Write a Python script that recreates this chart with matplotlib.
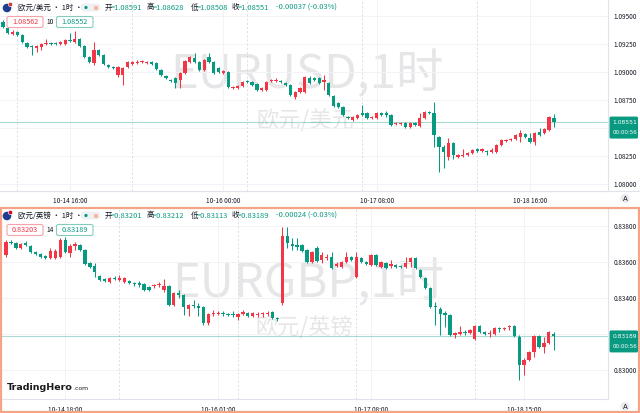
import matplotlib
matplotlib.use("Agg")
import matplotlib.pyplot as plt
from matplotlib.patches import FancyBboxPatch, Circle, Rectangle
import numpy as np

plt.rcParams['font.family'] = ['Noto Sans CJK SC', 'DejaVu Sans']

# ---------------- data ----------------
# EUR/USD hourly candles, x = hours since 10-14 00:00
usd_first_hour = 2
usd_open = [1.09444, 1.09391, 1.09337, 1.09355, 1.09329, 1.09257, 1.09231, 1.09213, 1.09222, 1.09248,
            1.09257, 1.09252, 1.09248, 1.09248, 1.09284, 1.09266, 1.09293, 1.09231, 1.09133, 1.09079,
            1.09195, 1.09151, 1.09062, 1.09044, 1.08973, 1.08973, 1.09044, 1.09070, 1.09079, 1.09088,
            1.09079, 1.09088, 1.09079, 1.09017, 1.08964, 1.08928, 1.08946, 1.08928, 1.08990, 1.09088,
            1.09124, 1.09088, 1.09017, 1.09133, 1.09088, 1.09035, 1.08990, 1.08999, 1.08857, 1.08857,
            1.08875, 1.08919, 1.08910, 1.08892, 1.08839, 1.08839, 1.08919, 1.08919, 1.08919, 1.08901,
            1.08884, 1.08777, 1.08821, 1.08821, 1.08946, 1.08946, 1.08946, 1.08910, 1.08901, 1.08786,
            1.08723, 1.08688, 1.08599, 1.08572, 1.08590, 1.08634, 1.08634, 1.08590, 1.08590, 1.08634,
            1.08634, 1.08617, 1.08536, 1.08538, 1.08545, 1.08510, 1.08545, 1.08519, 1.08590, 1.08643,
            1.08634, 1.08421, 1.08332, 1.08243, 1.08367, 1.08243, 1.08252, 1.08261, 1.08278, 1.08314,
            1.08296, 1.08296, 1.08287, 1.08287, 1.08350, 1.08385, 1.08394, 1.08403, 1.08421, 1.08447,
            1.08412, 1.08376, 1.08465, 1.08456, 1.08483, 1.08591]
usd_high = [1.09462, 1.09400, 1.09373, 1.09364, 1.09337, 1.09266, 1.09240, 1.09240, 1.09257, 1.09293,
            1.09266, 1.09266, 1.09275, 1.09293, 1.09346, 1.09364, 1.09300, 1.09240, 1.09142, 1.09266,
            1.09204, 1.09160, 1.09070, 1.09053, 1.09053, 1.09044, 1.09097, 1.09097, 1.09106, 1.09106,
            1.09097, 1.09097, 1.09088, 1.09026, 1.08973, 1.08937, 1.08955, 1.08999, 1.09106, 1.09142,
            1.09168, 1.09097, 1.09115, 1.09168, 1.09097, 1.09044, 1.09017, 1.09008, 1.08875, 1.08884,
            1.08919, 1.08928, 1.08919, 1.08901, 1.08866, 1.08919, 1.08937, 1.08942, 1.08928, 1.08910,
            1.08892, 1.08830, 1.08866, 1.08964, 1.08964, 1.08955, 1.08955, 1.08973, 1.08910, 1.08795,
            1.08732, 1.08697, 1.08608, 1.08608, 1.08626, 1.08706, 1.08643, 1.08608, 1.08643, 1.08643,
            1.08652, 1.08626, 1.08554, 1.08554, 1.08554, 1.08554, 1.08554, 1.08634, 1.08652, 1.08652,
            1.08732, 1.08430, 1.08350, 1.08412, 1.08376, 1.08269, 1.08314, 1.08287, 1.08314, 1.08323,
            1.08323, 1.08305, 1.08323, 1.08359, 1.08403, 1.08403, 1.08412, 1.08447, 1.08483, 1.08456,
            1.08456, 1.08465, 1.08501, 1.08501, 1.08608, 1.08628]
usd_low = [1.09391, 1.09337, 1.09329, 1.09320, 1.09257, 1.09213, 1.09151, 1.09177, 1.09195, 1.09240,
           1.09240, 1.09240, 1.09240, 1.09240, 1.09266, 1.09257, 1.09222, 1.09124, 1.09079, 1.09062,
           1.09142, 1.09062, 1.09035, 1.09026, 1.08955, 1.08884, 1.09035, 1.09062, 1.09070, 1.09079,
           1.09070, 1.09062, 1.09017, 1.08964, 1.08937, 1.08910, 1.08857, 1.08857, 1.08981, 1.09079,
           1.09079, 1.09008, 1.09008, 1.09079, 1.08981, 1.08990, 1.08981, 1.08857, 1.08848, 1.08848,
           1.08866, 1.08901, 1.08875, 1.08830, 1.08830, 1.08830, 1.08910, 1.08910, 1.08901, 1.08875,
           1.08786, 1.08759, 1.08812, 1.08812, 1.08892, 1.08919, 1.08892, 1.08839, 1.08786, 1.08688,
           1.08679, 1.08608, 1.08581, 1.08563, 1.08581, 1.08608, 1.08581, 1.08581, 1.08581, 1.08608,
           1.08599, 1.08519, 1.08528, 1.08528, 1.08501, 1.08501, 1.08519, 1.08510, 1.08581, 1.08625,
           1.08332, 1.08109, 1.08145, 1.08216, 1.08225, 1.08234, 1.08243, 1.08252, 1.08269, 1.08287,
           1.08287, 1.08261, 1.08278, 1.08278, 1.08341, 1.08376, 1.08385, 1.08394, 1.08376, 1.08412,
           1.08367, 1.08350, 1.08430, 1.08447, 1.08474, 1.08508]
usd_close = [1.09400, 1.09346, 1.09355, 1.09329, 1.09266, 1.09222, 1.09222, 1.09231, 1.09248, 1.09257,
             1.09248, 1.09246, 1.09266, 1.09284, 1.09275, 1.09293, 1.09231, 1.09133, 1.09088, 1.09195,
             1.09151, 1.09070, 1.09044, 1.09035, 1.09044, 1.09035, 1.09088, 1.09088, 1.09088, 1.09097,
             1.09088, 1.09070, 1.09026, 1.08973, 1.08946, 1.08919, 1.08901, 1.08990, 1.09097, 1.09133,
             1.09088, 1.09017, 1.09106, 1.09088, 1.08990, 1.08999, 1.09008, 1.08866, 1.08866, 1.08875,
             1.08910, 1.08910, 1.08884, 1.08839, 1.08857, 1.08910, 1.08928, 1.08928, 1.08910, 1.08884,
             1.08795, 1.08821, 1.08857, 1.08955, 1.08901, 1.08928, 1.08901, 1.08928, 1.08795, 1.08697,
             1.08688, 1.08617, 1.08590, 1.08599, 1.08617, 1.08617, 1.08590, 1.08599, 1.08634, 1.08617,
             1.08617, 1.08528, 1.08545, 1.08547, 1.08510, 1.08545, 1.08528, 1.08590, 1.08643, 1.08634,
             1.08439, 1.08332, 1.08287, 1.08367, 1.08261, 1.08261, 1.08261, 1.08278, 1.08305, 1.08296,
             1.08314, 1.08287, 1.08305, 1.08350, 1.08394, 1.08394, 1.08403, 1.08439, 1.08456, 1.08421,
             1.08376, 1.08456, 1.08439, 1.08492, 1.08599, 1.08551]

# EUR/GBP hourly candles
gbp_first_hour = 6
gbp_open = [0.83638, 0.83710, 0.83704, 0.83677, 0.83704, 0.83688, 0.83655, 0.83644, 0.83633, 0.83621,
            0.83621, 0.83627, 0.83721, 0.83649, 0.83688, 0.83693, 0.83666, 0.83594, 0.83577, 0.83522,
            0.83505, 0.83489, 0.83511, 0.83500, 0.83489, 0.83494, 0.83483, 0.83483, 0.83478, 0.83461,
            0.83467, 0.83472, 0.83444, 0.83467, 0.83361, 0.83428, 0.83417, 0.83339, 0.83361, 0.83354,
            0.83350, 0.83262, 0.83312, 0.83312, 0.83317, 0.83312, 0.83312, 0.83295, 0.83312, 0.83317,
            0.83301, 0.83306, 0.83312, 0.83312, 0.83323, 0.83290, 0.83373, 0.83745, 0.83699, 0.83693,
            0.83693, 0.83666, 0.83599, 0.83677, 0.83610, 0.83621, 0.83627, 0.83577, 0.83572, 0.83599,
            0.83627, 0.83516, 0.83621, 0.83599, 0.83583, 0.83638, 0.83572, 0.83594, 0.83577, 0.83583,
            0.83577, 0.83572, 0.83599, 0.83621, 0.83555, 0.83511, 0.83455, 0.83356, 0.83339, 0.83317,
            0.83306, 0.83195, 0.83201, 0.83212, 0.83207, 0.83173, 0.83245, 0.83212, 0.83201, 0.83201,
            0.83234, 0.83229, 0.83240, 0.83245, 0.83184, 0.83030, 0.83057, 0.83101, 0.83190, 0.83129,
            0.83151, 0.83201]
gbp_high = [0.83721, 0.83721, 0.83710, 0.83704, 0.83716, 0.83693, 0.83660, 0.83649, 0.83638, 0.83677,
            0.83671, 0.83732, 0.83738, 0.83699, 0.83710, 0.83699, 0.83671, 0.83599, 0.83594, 0.83528,
            0.83511, 0.83516, 0.83522, 0.83528, 0.83516, 0.83500, 0.83489, 0.83494, 0.83483, 0.83467,
            0.83478, 0.83489, 0.83505, 0.83472, 0.83433, 0.83444, 0.83422, 0.83367, 0.83389, 0.83373,
            0.83356, 0.83317, 0.83334, 0.83328, 0.83328, 0.83317, 0.83328, 0.83317, 0.83334, 0.83323,
            0.83323, 0.83323, 0.83323, 0.83328, 0.83328, 0.83295, 0.83795, 0.83795, 0.83732, 0.83732,
            0.83699, 0.83671, 0.83660, 0.83688, 0.83655, 0.83644, 0.83655, 0.83599, 0.83605, 0.83655,
            0.83633, 0.83655, 0.83627, 0.83605, 0.83644, 0.83644, 0.83605, 0.83599, 0.83610, 0.83588,
            0.83583, 0.83627, 0.83627, 0.83627, 0.83560, 0.83516, 0.83461, 0.83378, 0.83350, 0.83328,
            0.83312, 0.83212, 0.83245, 0.83223, 0.83229, 0.83251, 0.83251, 0.83218, 0.83223, 0.83240,
            0.83240, 0.83240, 0.83251, 0.83251, 0.83195, 0.83068, 0.83107, 0.83195, 0.83195, 0.83184,
            0.83218, 0.83212]
gbp_low = [0.83627, 0.83699, 0.83671, 0.83671, 0.83688, 0.83649, 0.83638, 0.83621, 0.83616, 0.83616,
           0.83616, 0.83621, 0.83649, 0.83627, 0.83666, 0.83660, 0.83583, 0.83566, 0.83516, 0.83494,
           0.83489, 0.83483, 0.83500, 0.83494, 0.83483, 0.83478, 0.83467, 0.83461, 0.83439, 0.83439,
           0.83455, 0.83461, 0.83433, 0.83356, 0.83356, 0.83400, 0.83306, 0.83301, 0.83345, 0.83301,
           0.83251, 0.83251, 0.83301, 0.83306, 0.83301, 0.83301, 0.83295, 0.83278, 0.83306, 0.83295,
           0.83295, 0.83295, 0.83295, 0.83301, 0.83284, 0.83273, 0.83361, 0.83677, 0.83666, 0.83666,
           0.83655, 0.83594, 0.83594, 0.83599, 0.83594, 0.83610, 0.83562, 0.83572, 0.83566, 0.83594,
           0.83605, 0.83511, 0.83594, 0.83583, 0.83577, 0.83577, 0.83566, 0.83560, 0.83566, 0.83566,
           0.83566, 0.83566, 0.83572, 0.83560, 0.83511, 0.83450, 0.83345, 0.83251, 0.83195, 0.83240,
           0.83190, 0.83179, 0.83195, 0.83195, 0.83201, 0.83168, 0.83207, 0.83195, 0.83184, 0.83195,
           0.83212, 0.83223, 0.83223, 0.83184, 0.82947, 0.82974, 0.83052, 0.83074, 0.83123, 0.83096,
           0.83146, 0.83113]
gbp_close = [0.83710, 0.83704, 0.83677, 0.83699, 0.83693, 0.83655, 0.83644, 0.83627, 0.83621, 0.83660,
             0.83660, 0.83721, 0.83655, 0.83688, 0.83699, 0.83666, 0.83588, 0.83572, 0.83544, 0.83500,
             0.83494, 0.83511, 0.83505, 0.83511, 0.83511, 0.83483, 0.83478, 0.83472, 0.83444, 0.83444,
             0.83472, 0.83478, 0.83467, 0.83361, 0.83428, 0.83417, 0.83350, 0.83361, 0.83356, 0.83347,
             0.83262, 0.83312, 0.83317, 0.83317, 0.83312, 0.83306, 0.83306, 0.83312, 0.83323, 0.83301,
             0.83317, 0.83312, 0.83317, 0.83317, 0.83290, 0.83284, 0.83745, 0.83704, 0.83688, 0.83685,
             0.83660, 0.83599, 0.83655, 0.83605, 0.83638, 0.83627, 0.83566, 0.83588, 0.83599, 0.83627,
             0.83610, 0.83627, 0.83599, 0.83588, 0.83638, 0.83583, 0.83599, 0.83566, 0.83588, 0.83572,
             0.83570, 0.83594, 0.83621, 0.83566, 0.83516, 0.83455, 0.83350, 0.83350, 0.83312, 0.83306,
             0.83195, 0.83207, 0.83212, 0.83207, 0.83223, 0.83245, 0.83212, 0.83201, 0.83207, 0.83234,
             0.83229, 0.83234, 0.83245, 0.83190, 0.83030, 0.83057, 0.83101, 0.83190, 0.83129, 0.83151,
             0.83212, 0.83189]

usd_ticks = [16, 48, 80, 112]
usd_tick_labels = ["10-14 16:00", "10-16 00:00", "10-17 08:00", "10-18 16:00"]
gbp_ticks = [18, 49, 80, 111]
gbp_tick_labels = ["10-14 18:00", "10-16 01:00", "10-17 08:00", "10-18 15:00"]
session_breaks = [5, 29, 53, 77, 101]
usd_price_ticks = [1.0800, 1.0825, 1.0850, 1.0875, 1.0900, 1.0925, 1.0950]
gbp_price_ticks = [0.830, 0.832, 0.834, 0.836, 0.838]

usd_header = ["1.08591", "1.08628", "1.08508", "1.08551", "-0.00037 (-0.03%)"]
gbp_header = ["0.83201", "0.83212", "0.83113", "0.83189", "-0.00024 (-0.03%)"]
usd_bidask = ["1.08562", "10", "1.08552"]
gbp_bidask = ["0.83203", "14", "0.83189"]

# ---------------- style ----------------
RED = '#f23645'
GREEN = '#089981'
TXT = '#131722'
GRID = '#f2f3f6'
SEP = '#e0e3eb'
W, H = 640, 413

fig = plt.figure(figsize=(6.4, 4.13), dpi=100)
fig.patch.set_facecolor('white')


def px_axes(left, top, right, bottom):
    return fig.add_axes([left / W, 1 - bottom / H, (right - left) / W, (bottom - top) / H])


def draw_candles(ax, first_hour, o, h, l, c, min_h):
    o, h, l, c = map(np.asarray, (o, h, l, c))
    x = first_hour + np.arange(len(o))
    colors = np.where(c >= o, RED, GREEN)
    ax.vlines(x, l, h, colors=colors, lw=0.75, zorder=3)
    ax.bar(x, np.maximum(np.abs(c - o), min_h), bottom=np.minimum(o, c), width=0.68,
           color=colors, linewidth=0, zorder=4)


def setup(ax, xlim, ylim, xt, xl, yt, last, hide_band):
    ax.set_xlim(*xlim)
    ax.set_ylim(*ylim)
    ax.set_xticks(xt)
    ax.set_xticklabels(xl)
    ax.yaxis.tick_right()
    ax.set_yticks(yt)
    # labels hidden under the last-price box are left blank
    ax.set_yticklabels(["" if (last - hide_band[1]) < v < (last + hide_band[0]) else f"{v:.5f}"
                        for v in yt])
    ax.tick_params(axis='both', length=0, labelsize=4.6, colors=TXT)
    ax.tick_params(axis='y', pad=4)
    ax.tick_params(axis='x', pad=4.5)
    ax.grid(True, color=GRID, lw=0.7, zorder=0)
    ax.set_axisbelow(True)
    for s in ['top', 'left']:
        ax.spines[s].set_visible(False)
    ax.spines['right'].set_color(SEP)
    ax.spines['bottom'].set_color(SEP)
    ax.spines['right'].set_linewidth(0.8)
    ax.spines['bottom'].set_linewidth(0.8)
    for b in session_breaks:
        if xlim[0] < b < xlim[1]:
            ax.axvline(b, color='#d6d9e0', lw=0.6, ls=(0, (2.5, 2.5)), zorder=1)


# top panel
ax1 = px_axes(0, 0, 608, 190.7)
setup(ax1, (1.37, 128.3), (1.07943, 1.0964), usd_ticks, usd_tick_labels, usd_price_ticks,
      usd_close[-1], (0.0009, 0.0021))
draw_candles(ax1, usd_first_hour, usd_open, usd_high, usd_low, usd_close, 0.0001)
ax1.axhline(usd_close[-1], color=GREEN, alpha=0.35, lw=0.8, zorder=2)
ax1.text(0.505, 0.607, "EURUSD,1时", transform=ax1.transAxes, ha='center', va='center',
         fontsize=34, color='#e6e6e8', zorder=0.5)
ax1.text(0.502, 0.365, "欧元/美元", transform=ax1.transAxes, ha='center', va='center',
         fontsize=16, color='#e6e6e8', zorder=0.5)

# bottom panel
ax2 = px_axes(2, 209, 608, 399.3)
setup(ax2, (5.19, 128.0), (0.82840, 0.83893), gbp_ticks, gbp_tick_labels, gbp_price_ticks,
      gbp_close[-1], (0.00055, 0.0013))
draw_candles(ax2, gbp_first_hour, gbp_open, gbp_high, gbp_low, gbp_close, 0.00006)
ax2.axhline(gbp_close[-1], color=GREEN, alpha=0.35, lw=0.8, zorder=2)
ax2.text(0.505, 0.606, "EURGBP,1时", transform=ax2.transAxes, ha='center', va='center',
         fontsize=34, color='#e6e6e8', zorder=0.5)
ax2.text(0.498, 0.375, "欧元/英镑", transform=ax2.transAxes, ha='center', va='center',
         fontsize=16, color='#e6e6e8', zorder=0.5)

# overlay in pixel coordinates
ov = fig.add_axes([0, 0, 1, 1], zorder=10)
ov.set_xlim(0, W)
ov.set_ylim(H, 0)
ov.axis('off')

# separators / border
ov.plot([0, W], [190.7, 190.7], color=SEP, lw=0.8)
ov.add_patch(Rectangle((0.8, 207.8), W - 1.6, H - 208.6, fill=False, edgecolor='#f5a585', lw=1.6))


def data_y(ax, v):
    return H - ax.transData.transform((0, v))[1]


def price_box(ax, value):
    y = data_y(ax, value)
    ov.add_patch(FancyBboxPatch((609.5, y - 5.8), 28.5, 22, boxstyle="round,pad=0,rounding_size=1.5",
                                facecolor=GREEN, edgecolor='none'))
    ov.text(612.5, y, f"{value:.5f}", color='white', fontsize=4.3, ha='left', va='center',
            family='DejaVu Sans')
    ov.text(612.5, y + 10.6, "00:00:56", color='white', fontsize=4.1, ha='left', va='center',
            family='DejaVu Sans')


price_box(ax1, usd_close[-1])
price_box(ax2, gbp_close[-1])


def a_button(y):
    ov.add_patch(Circle((625, y), 4.6, facecolor='#e9ebf1', edgecolor='none'))
    ov.text(625, y + 0.2, "A", fontsize=5, color=TXT, ha='center', va='center', family='DejaVu Sans')


a_button(198.5)
a_button(406.5)


def header(y0, pair, vals, bidask, flag2):
    yy = y0 + 7.5
    # flag
    ov.add_patch(Circle((7, yy + 0.5), 4.3, facecolor='#1e3f8f', edgecolor='none'))
    ov.add_patch(Circle((10.5, yy - 3), 2.2, facecolor=flag2, edgecolor='white', lw=0.4))
    ov.text(18, yy, pair + " · 1时 ·", fontsize=5.4, color=TXT, ha='left', va='center')
    ov.add_patch(FancyBboxPatch((80.5, yy - 4), 20, 8, boxstyle="round,pad=0,rounding_size=4",
                                facecolor='#eef0f4', edgecolor='none'))
    ov.add_patch(Circle((86, yy), 1.6, facecolor=GREEN, edgecolor='none'))
    ov.add_patch(Rectangle((94, yy - 2), 4, 4, facecolor='#f7b89a', edgecolor='none'))
    labels = ["开", "高", "低", "收"]
    xs = [105, 146.5, 190.5, 232]
    for lab, v, x in zip(labels, vals[:4], xs):
        ov.text(x, yy, lab, fontsize=5.4, color=TXT, ha='left', va='center')
        ov.text(x + 6.2, yy, "=" + v, fontsize=5.4, color=GREEN, ha='left', va='center')
    ov.text(276, yy, vals[4], fontsize=5.4, color=GREEN, ha='left', va='center')
    # bid/ask
    yb = y0 + 22
    ov.add_patch(FancyBboxPatch((7, yb - 5.5), 36, 11, boxstyle="round,pad=0,rounding_size=2",
                                facecolor='white', edgecolor='#f7a1a9', lw=0.8))
    ov.text(25, yb, bidask[0], fontsize=5.2, color=RED, ha='center', va='center')
    ov.text(50, yb, bidask[1], fontsize=4.8, color=TXT, ha='center', va='center')
    ov.add_patch(FancyBboxPatch((56.5, yb - 5.5), 36.5, 11, boxstyle="round,pad=0,rounding_size=2",
                                facecolor='white', edgecolor='#83cdbf', lw=0.8))
    ov.text(74.7, yb, bidask[2], fontsize=5.2, color=GREEN, ha='center', va='center')


header(0, "欧元/美元", usd_header, usd_bidask, '#d23a3a')
header(208, "欧元/英镑", gbp_header, gbp_bidask, '#c8102e')

# logo
ov.text(7, 387, "TradingHero", fontsize=6.8, fontweight='bold', color='#1b1b1b', ha='left',
        va='center', family='DejaVu Sans')
ov.text(73, 388.5, ".com", fontsize=4.4, color='#1b1b1b', ha='left', va='center', family='DejaVu Sans')

fig.savefig("out.png", dpi=100, facecolor='white')
